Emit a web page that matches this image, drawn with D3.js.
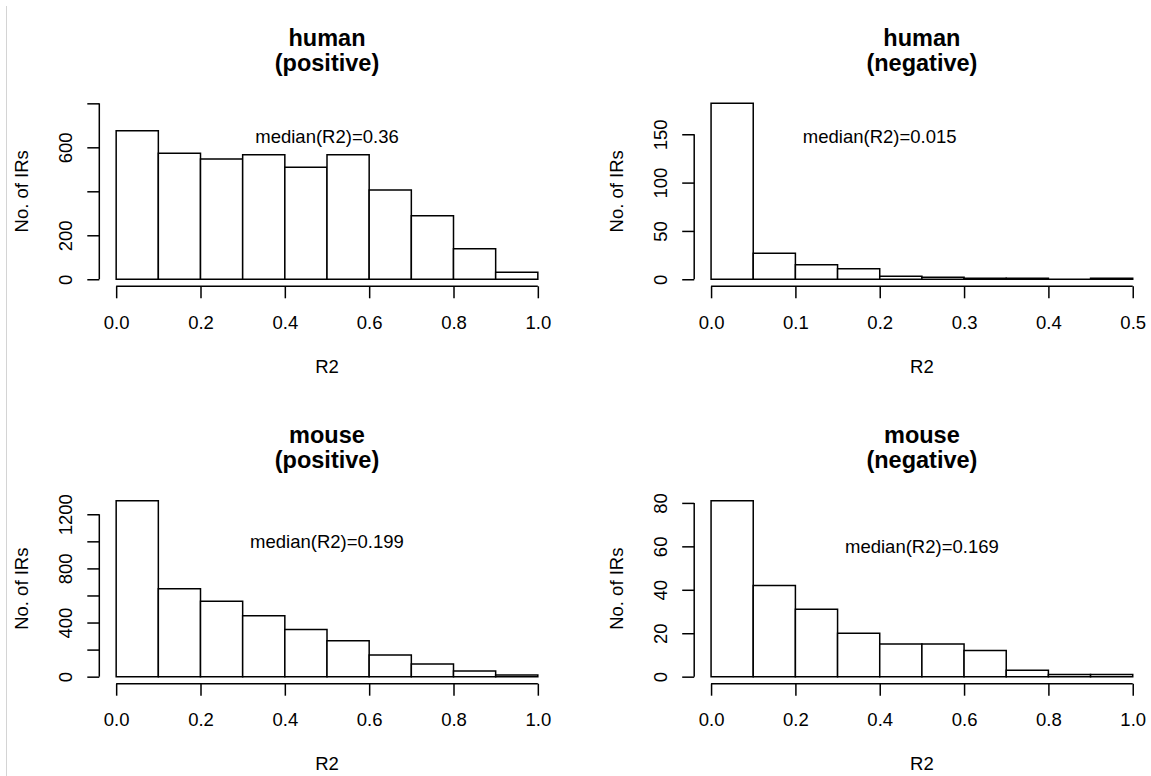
<!DOCTYPE html>
<html>
<head>
<meta charset="utf-8">
<script src="https://cdn.jsdelivr.net/npm/d3@7"></script>
<style>
body { margin: 0; background: #fff; }
text { font-family: "Liberation Sans", Arial, Helvetica, sans-serif; fill: #000; }
</style>
</head>
<body>
<script>
var width = 1151;
var height = 776;

// bin edges
var edgesUnit = [0, 0.1, 0.2, 0.3, 0.4, 0.5, 0.6, 0.7, 0.8, 0.9, 1.0];
var edgesHalf = [0, 0.05, 0.1, 0.15, 0.2, 0.25, 0.3, 0.35, 0.4, 0.45, 0.5];

// counts per bin
var humanPositive = [675, 573, 547, 566, 509, 566, 406, 289, 139, 32];
var humanNegative = [182, 27, 15, 11, 3, 2, 1, 1, 0, 1];
var mousePositive = [1300, 650, 558, 451, 348, 265, 160, 93, 42, 13];
var mouseNegative = [81, 42, 31, 20, 15, 15, 12, 3, 1, 1];

// ticks
var xTicksUnit = [0, 0.2, 0.4, 0.6, 0.8, 1.0];
var xTicksHalf = [0, 0.1, 0.2, 0.3, 0.4, 0.5];
var xTickLabelsUnit = ["0.0", "0.2", "0.4", "0.6", "0.8", "1.0"];
var xTickLabelsHalf = ["0.0", "0.1", "0.2", "0.3", "0.4", "0.5"];
var yTicksHP = [0, 200, 400, 600, 800];
var yTickLabelsHP = ["0", "200", "", "600", ""];
var yTicksHN = [0, 50, 100, 150];
var yTickLabelsHN = ["0", "50", "100", "150"];
var yTicksMP = [0, 200, 400, 600, 800, 1000, 1200];
var yTickLabelsMP = ["0", "", "400", "", "800", "", "1200"];
var yTicksMN = [0, 20, 40, 60, 80];
var yTickLabelsMN = ["0", "20", "40", "60", "80"];

var species = ["human", "human", "mouse", "mouse"];
var signs = ["(positive)", "(negative)", "(positive)", "(negative)"];
var medians = ["median(R2)=0.36", "median(R2)=0.015", "median(R2)=0.199", "median(R2)=0.169"];

var panels = [
	{ counts: humanPositive, edges: edgesUnit, xt: xTicksUnit, xl: xTickLabelsUnit, yt: yTicksHP, yl: yTickLabelsHP, col: 0, row: 0, mx: 0.5, my: 650 },
	{ counts: humanNegative, edges: edgesHalf, xt: xTicksHalf, xl: xTickLabelsHalf, yt: yTicksHN, yl: yTickLabelsHN, col: 1, row: 0, mx: 0.2, my: 148 },
	{ counts: mousePositive, edges: edgesUnit, xt: xTicksUnit, xl: xTickLabelsUnit, yt: yTicksMP, yl: yTickLabelsMP, col: 0, row: 1, mx: 0.5, my: 1000 },
	{ counts: mouseNegative, edges: edgesUnit, xt: xTicksUnit, xl: xTickLabelsUnit, yt: yTicksMN, yl: yTickLabelsMN, col: 1, row: 1, mx: 0.5, my: 60 }
];

var colLeft = [99.3, 694.2];
var rowTop = [96.3, 493.7];
var plotW = 455.4;
var plotH = 190;
var tick = 12;
var fs = "18.5px";

var svg = d3.select("body").append("svg")
	.attr("width", width)
	.attr("height", height);

// thin page edge seen in the screenshot
svg.append("line")
	.attr("x1", 6.5).attr("x2", 6.5)
	.attr("y1", 6).attr("y2", height)
	.attr("stroke", "#d4d4d4")
	.attr("stroke-width", 1);

panels.forEach(function(p, i) {
	var left = colLeft[p.col];
	var top = rowTop[p.row];
	var xMin = p.edges[0];
	var xMax = p.edges[p.edges.length - 1];
	var yMax = d3.max(p.yt.concat(p.counts));
	var xPad = (xMax - xMin) * 0.04;
	var yPad = yMax * 0.04;

	var x = d3.scaleLinear().domain([xMin - xPad, xMax + xPad]).range([0, plotW]);
	var y = d3.scaleLinear().domain([-yPad, yMax + yPad]).range([plotH, 0]);

	var g = svg.append("g").attr("transform", "translate(" + left + "," + top + ")");

	var bins = p.counts.map(function(c, j) {
		return { x0: p.edges[j], x1: p.edges[j + 1], n: c };
	});

	// bars as closed paths so empty bins still show their base line
	g.selectAll("path.bar").data(bins).enter().append("path")
		.attr("class", "bar")
		.attr("d", function(d) {
			return "M" + x(d.x0) + "," + y(0) + "V" + y(d.n) + "H" + x(d.x1) + "V" + y(0) + "Z";
		})
		.attr("fill", "white")
		.attr("stroke", "black")
		.attr("stroke-width", 1.5);

	// x axis
	var xa = g.append("g")
		.attr("transform", "translate(0," + plotH + ")")
		.call(d3.axisBottom(x).tickValues(p.xt).tickSize(tick).tickPadding(17.5)
			.tickFormat(function(d, j) { return p.xl[j]; }));
	xa.select(".domain").remove();
	xa.append("line")
		.attr("x1", x(p.xt[0])).attr("x2", x(p.xt[p.xt.length - 1]))
		.attr("stroke", "black").attr("stroke-width", 1.5);
	xa.selectAll(".tick line").attr("stroke-width", 1.5);
	xa.selectAll("text").attr("font-size", fs).attr("fill", "#000");

	// y axis
	var ya = g.append("g")
		.call(d3.axisLeft(y).tickValues(p.yt).tickSize(tick)
			.tickFormat(function(d, j) { return p.yl[j]; }));
	ya.select(".domain").remove();
	ya.append("line")
		.attr("y1", y(p.yt[0])).attr("y2", y(p.yt[p.yt.length - 1]))
		.attr("stroke", "black").attr("stroke-width", 1.5);
	ya.selectAll(".tick line").attr("stroke-width", 1.5);
	ya.selectAll("text")
		.attr("transform", "rotate(-90)")
		.attr("x", 0).attr("y", -27).attr("dy", 0)
		.attr("text-anchor", "middle")
		.attr("font-size", fs).attr("fill", "#000");

	// titles
	g.append("text")
		.attr("x", plotW / 2).attr("y", -50.3)
		.attr("text-anchor", "middle")
		.attr("font-size", "23.5px").attr("font-weight", "bold")
		.text(species[i]);
	g.append("text")
		.attr("x", plotW / 2).attr("y", -25.3)
		.attr("text-anchor", "middle")
		.attr("font-size", "23.5px").attr("font-weight", "bold")
		.text(signs[i]);

	g.append("text")
		.attr("x", plotW / 2).attr("y", plotH + 86.7)
		.attr("text-anchor", "middle")
		.attr("font-size", fs)
		.text("R2");

	g.append("text")
		.attr("transform", "translate(-71.3," + (plotH / 2) + ") rotate(-90)")
		.attr("text-anchor", "middle")
		.attr("font-size", fs)
		.text("No. of IRs");

	g.append("text")
		.attr("x", x(p.mx)).attr("y", y(p.my))
		.attr("dy", "0.35em")
		.attr("text-anchor", "middle")
		.attr("font-size", fs)
		.text(medians[i]);
});
</script>
</body>
</html>
